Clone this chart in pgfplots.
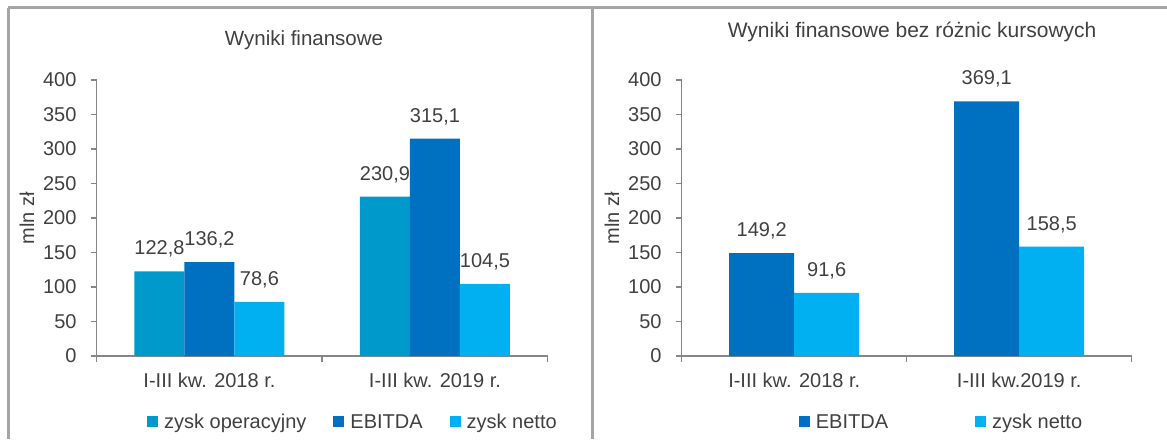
\documentclass[border=0pt]{standalone}
\usepackage{pgfplots}
\pgfplotsset{compat=1.18}
\usepackage{fontspec}
\setmainfont{Liberation Sans}
\definecolor{cOp}{RGB}{0,153,204}
\definecolor{cEb}{RGB}{0,112,192}
\definecolor{cNet}{RGB}{0,176,240}
\definecolor{txt}{RGB}{64,64,64}
\definecolor{axg}{RGB}{134,134,134}
\definecolor{frm}{RGB}{165,165,165}
\pgfplotsset{
 base/.style={
  scale only axis, height=276pt, clip=false,
  ymin=0, ymax=400, ytick={0,50,...,400},
  xmin=-0.5, xmax=1.5,
  axis lines=left,
  axis line style={-, draw=axg, line width=1.5pt},
  tick align=outside, major tick length=6pt,
  tick style={draw=axg, line width=1.5pt},
  xtick={-0.5,0.5,1.5}, xticklabels={},
  extra x ticks={0,1},
  extra x tick style={major tick length=0pt, xticklabel style={anchor=base, yshift=-31pt, inner sep=0pt}},
  yticklabel style={anchor=east, inner sep=0pt, xshift=-14pt},
  /pgf/number format/assume math mode=true,
  ticklabel style={text=txt},
  ybar=0pt,
  nodes near coords={\pgfmathprintnumber[use comma,fixed,fixed zerofill,precision=1,assume math mode=true]{\pgfplotspointmeta}},
  every node near coord/.append style={anchor=base, inner sep=0pt, yshift=16.5pt, text=txt},
  ylabel={mln zł},
  ylabel style={at={(axis description cs:-0.155,0.5)}, anchor=center, text=txt},
  legend style={draw=none, fill=none, inner sep=0pt, anchor=west, text=txt,
    /tikz/every odd column/.append style={column sep=4pt}},
  legend image code/.code={\fill[#1] (0pt,-5.5pt) rectangle (11pt,5.5pt);},
  title style={anchor=base, text=txt, font=\fontsize{20.5}{24}\selectfont},
 }
}
\begin{document}
\begin{tikzpicture}[font=\fontsize{20}{24}\selectfont]
\useasboundingbox (0,0) rectangle (1167pt,-439pt);
\draw[frm, line width=2.5pt] (8pt,-7.5pt) -- (1167pt,-7.5pt);
\draw[frm, line width=2.5pt] (8.5pt,-7.5pt) -- (8.5pt,-439pt);
\draw[frm, line width=3pt] (592pt,-7.5pt) -- (592pt,-439pt);

\begin{axis}[base, width=451pt, bar width=50pt,
  at={(96.7pt,-356pt)}, anchor=south west,
  extra x tick labels={I-III kw. 2018 r., I-III kw. 2019 r.},
  title={Wyniki finansowe},
  title style={at={(axis description cs:0.4597,1.1025)}},
  legend style={at={(axis description cs:0.1115,-0.239)}, legend columns=3,
    /tikz/every even column/.append style={column sep=25pt}},
]
\addplot[fill=cOp, draw=none] coordinates {(0,122.8) (1,230.9)};
\addplot[fill=cEb, draw=none] coordinates {(0,136.2) (1,315.1)};
\addplot[fill=cNet, draw=none] coordinates {(0,78.6) (1,104.5)};
\legend{zysk operacyjny, EBITDA, zysk netto}
\end{axis}

\begin{axis}[base, width=450pt, bar width=65pt,
  at={(681.7pt,-356pt)}, anchor=south west,
  extra x tick labels={I-III kw. 2018 r., I-III kw.2019 r.},
  title={Wyniki finansowe bez różnic kursowych},
  title style={at={(axis description cs:0.512,1.134)}, font=\fontsize{21}{25}\selectfont},
  legend style={at={(axis description cs:0.26,-0.239)}, legend columns=2,
    /tikz/every even column/.append style={column sep=85pt}},
]
\addplot[fill=cEb, draw=none] coordinates {(0,149.2) (1,369.1)};
\addplot[fill=cNet, draw=none] coordinates {(0,91.6) (1,158.5)};
\legend{EBITDA, zysk netto}
\end{axis}
\end{tikzpicture}
\end{document}
